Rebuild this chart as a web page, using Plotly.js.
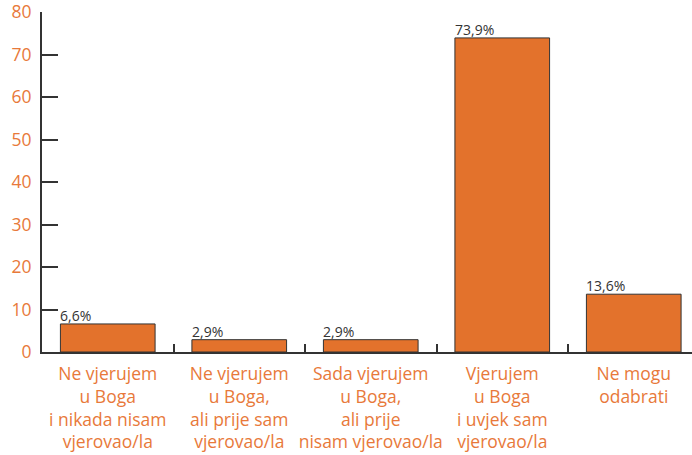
<!DOCTYPE html>
<html>
<head>
<meta charset="utf-8">
<script src="https://cdn.plot.ly/plotly-3.0.1.min.js"></script>
<style>html,body{margin:0;padding:0;background:#fff;}#chart{width:692px;height:455px;}</style>
</head>
<body>
<div id="chart"></div>
<script>
const categories = [
  "Ne vjerujem<br>u Boga<br>i nikada nisam<br>vjerovao/la",
  "Ne vjerujem<br>u Boga,<br>ali prije sam<br>vjerovao/la",
  "Sada vjerujem<br>u Boga,<br>ali prije<br>nisam vjerovao/la",
  "Vjerujem<br>u Boga<br>i uvjek sam<br>vjerovao/la",
  "Ne mogu<br>odabrati"
];
const values = [6.6, 2.9, 2.9, 73.9, 13.6];
const valueLabels = ["6,6%", "2,9%", "2,9%", "73,9%", "13,6%"];
const yTicks = [0, 10, 20, 30, 40, 50, 60, 70, 80];

const orange = "#E3722C";
const textOrange = "#E8793A";
const barWidth = 0.72;
const fontFam = "'Open Sans', sans-serif";

const trace = {
  type: "bar",
  x: categories,
  y: values,
  width: barWidth,
  marker: {color: orange, line: {color: "#333333", width: 1}},
  hoverinfo: "none"
};

const annotations = values.map((v, i) => ({
  x: i - barWidth / 2,
  y: v,
  xref: "x",
  yref: "y",
  text: valueLabels[i],
  showarrow: false,
  xanchor: "left",
  yanchor: "bottom",
  xshift: -2,
  yshift: -3,
  font: {family: fontFam, size: 14, color: "#333333"}
}));

const layout = {
  width: 692,
  height: 455,
  margin: {l: 42, r: 0, t: 12, b: 103},
  paper_bgcolor: "#ffffff",
  plot_bgcolor: "#ffffff",
  showlegend: false,
  font: {family: fontFam},
  xaxis: {
    type: "category",
    range: [-0.5, 4.443],
    showgrid: false,
    zeroline: false,
    showline: true,
    linecolor: "#333333",
    linewidth: 2,
    ticks: "inside",
    tickson: "boundaries",
    ticklen: 8,
    tickwidth: 2,
    tickcolor: "#333333",
    tickangle: 0,
    automargin: false,
    ticklabelstandoff: 5,
    ticklabeloverflow: "allow",
    tickfont: {family: fontFam, size: 17.5, color: textOrange},
    fixedrange: true
  },
  yaxis: {
    range: [0, 80],
    tickvals: yTicks,
    ticktext: yTicks.map(String),
    showgrid: false,
    zeroline: false,
    showline: true,
    linecolor: "#333333",
    linewidth: 2,
    ticks: "inside",
    ticklen: 16,
    tickwidth: 2,
    tickcolor: "#333333",
    automargin: false,
    ticklabelstandoff: 5,
    ticklabeloverflow: "allow",
    tickfont: {family: fontFam, size: 17.5, color: textOrange},
    fixedrange: true
  },
  annotations: annotations
};

Plotly.newPlot("chart", [trace], layout, {displayModeBar: false, staticPlot: true});
</script>
</body>
</html>
